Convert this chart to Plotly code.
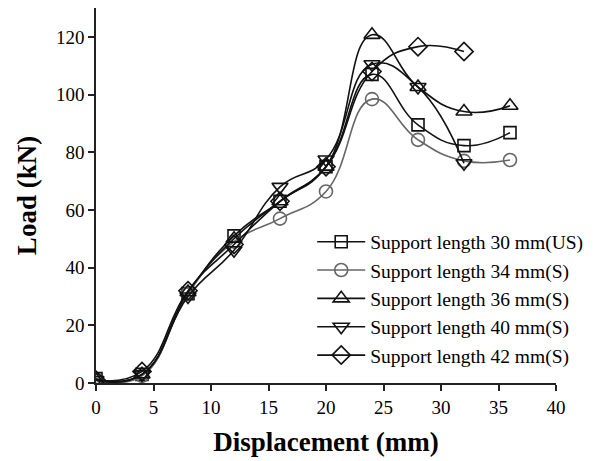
import plotly.graph_objects as go

disp = [0, 4, 8, 12, 16, 20, 24, 28, 32, 36]
load_30 = [1.5, 3, 31, 51, 63, 75, 107, 89.5, 82.3, 86.8]
load_34 = [1, 2.5, 31, 49, 57, 66.4, 98.4, 84.3, 77, 77.3]
load_36 = [1, 3, 31.5, 50, 63, 75, 120.7, 102.6, 94.1, 96.1]
load_40 = [1, 3, 30, 46, 68, 77.5, 110.5, 102.6, 76.2]
load_42 = [1, 4, 32, 48, 63, 75, 108, 116.6, 114.9]

names = ["Support length 30 mm(US)", "Support length 34 mm(S)", "Support length 36 mm(S)",
         "Support length 40 mm(S)", "Support length 42 mm(S)"]
series = [load_30, load_34, load_36, load_40, load_42]
symbols = ["square-open", "circle-open", "triangle-up-open", "triangle-down-open", "diamond-open"]
colors = ["#111111", "#666666", "#111111", "#111111", "#111111"]
sizes = [12, 13, 14, 14, 14]

fig = go.Figure()
for n, y, s, c, sz in zip(names, series, symbols, colors, sizes):
    fig.add_trace(go.Scatter(
        x=disp[:len(y)], y=y, name=n, mode="lines+markers",
        line=dict(color=c, width=1.6, shape="spline", smoothing=1.3),
        marker=dict(symbol=s, size=sz, color=c, line=dict(color=c, width=1.6)),
    ))

font_family = "Liberation Serif, Times New Roman, serif"
fig.update_layout(
    width=608, height=461,
    margin=dict(l=96, r=52, t=8, b=78),
    paper_bgcolor="white", plot_bgcolor="white",
    font=dict(family=font_family, color="black", size=19),
    showlegend=True,
    legend=dict(x=0.47, y=0.428, xanchor="left", yanchor="top",
                font=dict(family=font_family, size=19.5, color="black"),
                bgcolor="rgba(0,0,0,0)", itemwidth=48, tracegroupgap=0),
    xaxis=dict(range=[0, 40], tickvals=[0, 5, 10, 15, 20, 25, 30, 35, 40],
               showline=True, linecolor="#222", linewidth=1.5, ticks="outside",
               ticklen=6, tickwidth=1.5, tickcolor="#222", showgrid=False, zeroline=False,
               tickfont=dict(size=19),
               title=dict(text="<b>Displacement (mm)</b>", font=dict(size=27), standoff=16)),
    yaxis=dict(range=[0, 130], tickvals=[0, 20, 40, 60, 80, 100, 120],
               showline=True, linecolor="#222", linewidth=1.5, ticks="outside",
               ticklen=6, tickwidth=1.5, tickcolor="#222", showgrid=False, zeroline=False,
               tickfont=dict(size=19),
               title=dict(text="<b>Load (kN)</b>", font=dict(size=27), standoff=12)),
)

fig.write_html("out.html")
